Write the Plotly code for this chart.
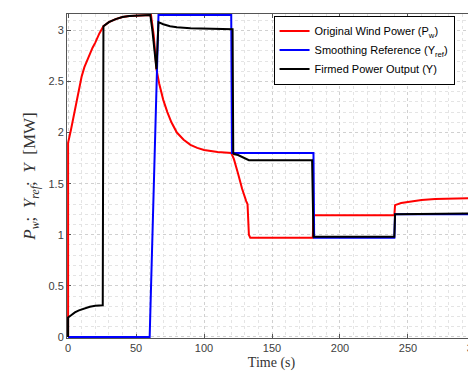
import plotly.graph_objects as go

# Original wind power P_w
t_pw = [0, 0, 2, 4, 6, 8, 10, 12, 14, 16, 18, 20, 23, 26, 30, 35, 40, 45, 50, 55, 61,
        63, 65, 67, 70, 73, 76, 80, 85, 90, 95, 100, 110, 120, 122, 125, 128, 131, 132,
        133, 134, 180, 180.5, 240, 240.5, 245, 250, 260, 270, 285, 300]
pw = [0, 1.9, 2.02, 2.15, 2.3, 2.44, 2.55, 2.64, 2.71, 2.77, 2.83, 2.88, 2.97, 3.04,
      3.08, 3.11, 3.13, 3.14, 3.145, 3.15, 3.15,
      2.95, 2.62, 2.48, 2.32, 2.2, 2.1, 2.0, 1.93, 1.88, 1.85, 1.83, 1.81, 1.8, 1.74,
      1.6, 1.45, 1.33, 1.3, 1.0, 0.97, 0.97, 1.19, 1.19, 1.29, 1.31, 1.32, 1.34, 1.35,
      1.355, 1.36]

# Smoothing reference Y_ref
t_ref = [0, 60, 66.5, 120, 120.5, 180.5, 181, 240, 240.5, 300]
yref = [0, 0, 3.15, 3.15, 1.8, 1.8, 0.97, 0.97, 1.2, 1.2]

# Firmed power output Y
t_y = [0, 0, 2, 5, 8, 12, 16, 20, 25.5, 26, 30, 35, 40, 45, 50, 55, 60.5, 62, 65, 66.5,
       70, 75, 80, 90, 100, 121, 121.5, 122, 125, 128, 131, 133, 179.5, 180.5, 240,
       240.5, 298, 300]
y = [0, 0.19, 0.21, 0.24, 0.26, 0.28, 0.295, 0.305, 0.31, 3.04, 3.08, 3.11, 3.13, 3.14,
     3.145, 3.15, 3.15, 3.0, 2.62, 3.08, 3.06, 3.04, 3.03, 3.02, 3.015, 3.01, 1.8, 1.79,
     1.78, 1.76, 1.74, 1.73, 1.73, 0.98, 0.98, 1.2, 1.21, 1.23]

x_ticks = [0, 50, 100, 150, 200, 250, 300]
y_ticks = [0, 0.5, 1, 1.5, 2, 2.5, 3]

fig = go.Figure()
fig.add_trace(go.Scatter(x=t_pw, y=pw, mode="lines", line=dict(color="#ff0000", width=2),
                         name="Original Wind Power (P<sub>w</sub>)"))
fig.add_trace(go.Scatter(x=t_ref, y=yref, mode="lines", line=dict(color="#0000ff", width=2),
                         name="Smoothing Reference (Y<sub>ref</sub>)"))
fig.add_trace(go.Scatter(x=t_y, y=y, mode="lines", line=dict(color="#000000", width=2),
                         name="Firmed Power Output (Y)"))

axis_common = dict(
    showline=True, linecolor="#555555", linewidth=1, mirror="ticks",
    ticks="inside", ticklen=4, tickcolor="#555555",
    showgrid=True, gridcolor="#d0d0d0", griddash="dot", gridwidth=1,
    zeroline=False, layer="below traces", ticklabeloverflow="allow",
    tickfont=dict(family="Liberation Sans, Arial", size=11, color="#404040"),
)

fig.update_xaxes(**axis_common, range=[-0.8, 300.05], tickvals=x_ticks,
                 ticktext=[str(v) for v in x_ticks],
                 minor=dict(dtick=10, showgrid=True, gridcolor="#e4e4e4", griddash="dot"),
                 title=dict(text="Time (s)", standoff=3,
                            font=dict(family="Liberation Serif, serif", size=14, color="#333")))
fig.update_yaxes(**axis_common, range=[-0.01, 3.16], tickvals=y_ticks,
                 ticktext=["0", "0.5", "1", "1.5", "2", "2.5", "3"],
                 minor=dict(dtick=0.1, showgrid=True, gridcolor="#e4e4e4", griddash="dot"),
                 title=dict(text="<i>P<sub>w</sub></i>;  <i>Y<sub>ref</sub></i>;  <i>Y</i>  [MW]",
                            standoff=8,
                            font=dict(family="Liberation Serif, serif", size=17, color="#333")))

fig.update_layout(
    width=476, height=373,
    margin=dict(l=59, r=8, t=6, b=43, autoexpand=False),
    plot_bgcolor="white", paper_bgcolor="white",
    legend=dict(x=0.505, y=0.995, xanchor="left", yanchor="top",
                bgcolor="white", bordercolor="#000", borderwidth=1,
                font=dict(family="Liberation Sans, Arial", size=11, color="#000"),
                tracegroupgap=0, itemwidth=30),
    showlegend=True,
)

fig.write_html("out.html")
